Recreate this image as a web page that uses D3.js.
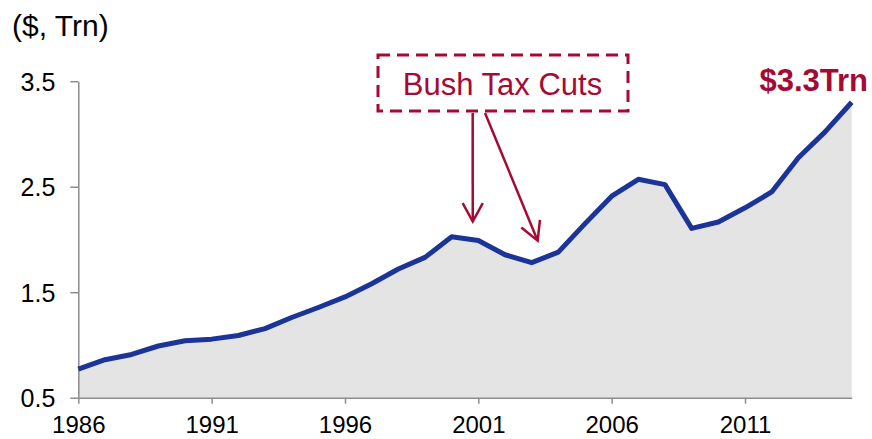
<!DOCTYPE html>
<html>
<head>
<meta charset="utf-8">
<script src="https://cdn.jsdelivr.net/npm/d3@7"></script>
<style>
  html, body { margin: 0; padding: 0; background: #fff; }
  svg { display: block; font-family: "Liberation Sans", Arial, sans-serif; }
</style>
</head>
<body>
<svg id="chart" width="872" height="439"></svg>
<script>
// Federal revenue, trillions of dollars, 1986–2015
const years = d3.range(1986, 2016);
const revenue = [
  0.77, 0.86, 0.91, 0.99, 1.04, 1.055, 1.09, 1.155, 1.26, 1.355,
  1.455, 1.58, 1.72, 1.83, 2.025, 1.99, 1.855, 1.78, 1.88, 2.15,
  2.41, 2.57, 2.52, 2.105, 2.165, 2.30, 2.45, 2.775, 3.02, 3.3
];
const yTicks = [0.5, 1.5, 2.5, 3.5];
const xTicks = [1986, 1991, 1996, 2001, 2006, 2011];
const unitLabel = "($, Trn)";
const endLabel = "$3.3Trn";
const noteLabel = "Bush Tax Cuts";
const noteTargets = [2001, 2003];

const RED = "#a50a34";
const BLUE = "#1b3497";

const svg = d3.select("#chart");
const x = d3.scaleLinear().domain([1986, 2015]).range([78.3, 851.7]);
const y = d3.scaleLinear().domain([0.5, 3.5]).range([397.7, 81.2]);

// shaded area under the line
const area = d3.area()
  .x((d, i) => x(years[i]))
  .y0(y(0.5))
  .y1(d => y(d));
svg.append("path").datum(revenue)
  .attr("d", area)
  .attr("fill", "#e4e4e4");

// axes
const yAxis = svg.append("g")
  .attr("transform", `translate(${x(1986)},0)`)
  .call(d3.axisLeft(y).tickValues(yTicks).tickSize(8).tickSizeOuter(0).tickFormat(d3.format(".1f")));
const xAxis = svg.append("g")
  .attr("transform", `translate(0,${y(0.5)})`)
  .call(d3.axisBottom(x).tickValues(xTicks).tickSize(6).tickSizeOuter(0).tickFormat(d3.format("d")));
[yAxis, xAxis].forEach(g => {
  g.select(".domain").attr("stroke", "#8c8c8c").attr("stroke-width", 1.5);
  g.selectAll(".tick line").attr("stroke", "#8c8c8c").attr("stroke-width", 1.5);
  g.selectAll(".tick text")
    .attr("fill", "#000")
    .attr("font-family", "Liberation Sans, Arial, sans-serif")
    .attr("font-size", 25);
});
yAxis.selectAll(".tick text").attr("x", -23).attr("dy", "0.36em");
xAxis.selectAll(".tick text").attr("font-size", 24).attr("y", 35.5).attr("dy", 0);

// revenue line
const line = d3.line()
  .x((d, i) => x(years[i]))
  .y(d => y(d));
svg.append("path").datum(revenue)
  .attr("d", line)
  .attr("fill", "none")
  .attr("stroke", BLUE)
  .attr("stroke-width", 5)
  .attr("stroke-linejoin", "round");

// unit label
svg.append("text")
  .attr("x", 12).attr("y", 36)
  .attr("font-size", 30)
  .attr("fill", "#000")
  .text(unitLabel);

// end value label
svg.append("text")
  .attr("x", 868).attr("y", 91)
  .attr("text-anchor", "end")
  .attr("font-size", 31)
  .attr("font-weight", "bold")
  .attr("fill", RED)
  .text(endLabel);

// annotation box
svg.append("rect")
  .attr("x", 378).attr("y", 55)
  .attr("width", 250).attr("height", 56)
  .attr("fill", "none")
  .attr("stroke", RED)
  .attr("stroke-width", 3)
  .attr("stroke-dasharray", "12,7");
svg.append("text")
  .attr("x", 502.5).attr("y", 95)
  .attr("text-anchor", "middle")
  .attr("font-size", 31)
  .attr("fill", RED)
  .text(noteLabel);

// arrows from the box down to the line
const starts = [[472.7, 113], [485, 113]];
const gaps = [19, 22];
noteTargets.forEach((yr, i) => {
  const tx = x(yr) - (i === 0 ? 5.6 : -6);
  const ty = y(revenue[years.indexOf(yr)]) - gaps[i];
  const [sx, sy] = starts[i];
  const ang = Math.atan2(ty - sy, tx - sx);
  const len = 21, spread = 0.5;
  svg.append("line")
    .attr("x1", sx).attr("y1", sy).attr("x2", tx).attr("y2", ty)
    .attr("stroke", RED).attr("stroke-width", 2.5);
  const head = [
    [tx - len * Math.cos(ang - spread), ty - len * Math.sin(ang - spread)],
    [tx, ty],
    [tx - len * Math.cos(ang + spread), ty - len * Math.sin(ang + spread)]
  ];
  svg.append("path")
    .attr("d", d3.line()(head))
    .attr("fill", "none")
    .attr("stroke", RED).attr("stroke-width", 2.5)
    .attr("stroke-linejoin", "miter");
});
</script>
</body>
</html>
